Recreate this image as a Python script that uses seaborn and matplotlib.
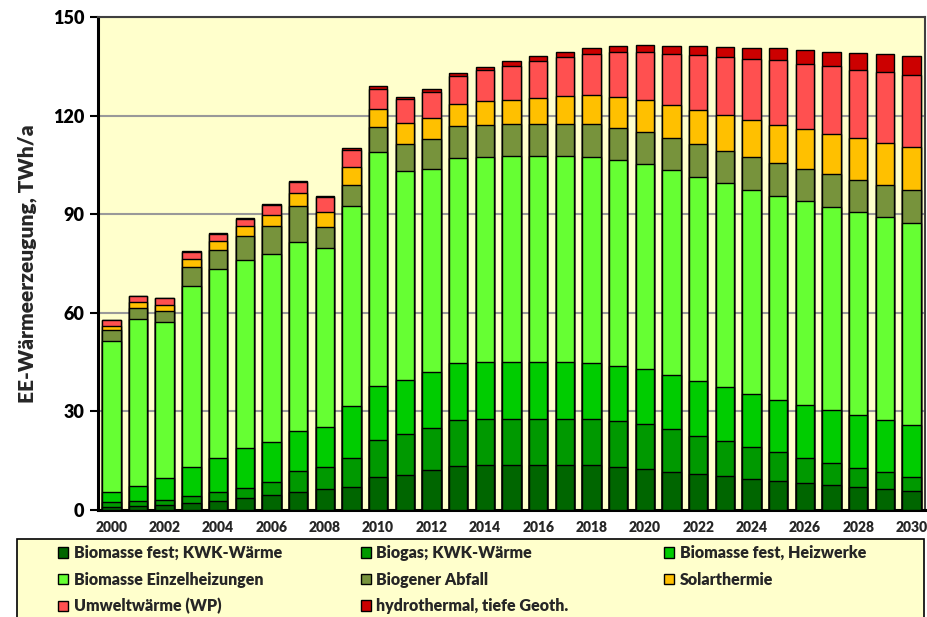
import numpy as np
import matplotlib
matplotlib.use("Agg")
import matplotlib.pyplot as plt
import seaborn as sns
from matplotlib.patches import Patch, Rectangle

# values, TWh/a
years = [str(y) for y in range(2000, 2031)]
fest_kwk = [1.0, 1.2, 1.5, 2.1, 2.8, 3.7, 4.6, 5.5, 6.3, 7.1, 9.9, 10.7, 12.1, 13.4, 13.6, 13.7,
            13.8, 13.7, 13.6, 13.0, 12.4, 11.7, 11.0, 10.3, 9.5, 8.7, 8.1, 7.5, 7.0, 6.4, 5.9]
biogas_kwk = [1.3, 1.4, 1.5, 2.3, 2.6, 3.1, 3.8, 6.3, 6.9, 8.8, 11.5, 12.4, 13.0, 14.1, 14.1, 14.1,
              14.0, 14.1, 14.1, 14.1, 13.9, 12.8, 11.6, 10.6, 9.8, 8.8, 7.7, 6.8, 5.9, 5.1, 4.0]
heizwerke = [3.1, 4.8, 6.6, 8.8, 10.3, 12.1, 12.2, 12.3, 12.0, 15.8, 16.2, 16.4, 16.9, 17.1, 17.2, 17.2,
             17.3, 17.2, 17.1, 16.8, 16.6, 16.5, 16.6, 16.4, 16.1, 16.1, 16.2, 16.2, 15.9, 15.8, 15.9]
einzel = [46.1, 50.8, 47.7, 55.1, 57.5, 57.2, 57.4, 57.5, 54.6, 60.7, 71.4, 63.7, 61.7, 62.6, 62.5, 62.6,
          62.6, 62.7, 62.7, 62.6, 62.4, 62.4, 62.1, 62.2, 62.1, 62.0, 62.0, 61.8, 61.8, 61.8, 61.6]
abfall = [3.4, 3.3, 3.3, 5.6, 6.0, 7.4, 8.4, 10.8, 6.3, 6.6, 7.4, 8.3, 9.1, 9.6, 9.7, 9.7,
          9.7, 9.8, 9.8, 9.8, 9.7, 9.8, 10.0, 9.8, 10.0, 10.0, 9.9, 9.9, 9.8, 9.9, 10.0]
solar = [1.2, 1.7, 1.8, 2.5, 2.6, 2.9, 3.5, 4.0, 4.5, 5.4, 5.6, 6.4, 6.5, 6.7, 7.2, 7.6,
         8.1, 8.4, 8.9, 9.3, 9.8, 10.0, 10.4, 10.8, 11.3, 11.5, 11.9, 12.3, 12.7, 12.8, 13.2]
umwelt = [1.6, 1.8, 2.0, 2.1, 2.2, 2.2, 2.9, 3.5, 4.5, 5.2, 6.2, 7.1, 8.0, 8.6, 9.5, 10.3,
          11.0, 12.0, 12.7, 13.8, 14.5, 15.6, 16.6, 17.7, 18.5, 19.7, 20.0, 20.5, 20.8, 21.5, 21.7]
hydro = [0.2, 0.2, 0.2, 0.3, 0.3, 0.3, 0.3, 0.3, 0.3, 0.5, 0.7, 0.7, 0.8, 0.9, 1.0, 1.3,
         1.6, 1.6, 1.8, 1.9, 2.2, 2.4, 2.8, 3.0, 3.3, 3.7, 4.1, 4.4, 5.1, 5.4, 5.8]

labels = ['Biomasse fest; KWK-Wärme', 'Biogas; KWK-Wärme', 'Biomasse fest, Heizwerke',
          'Biomasse Einzelheizungen', 'Biogener Abfall', 'Solarthermie',
          'Umweltwärme (WP)', 'hydrothermal, tiefe Geoth.']
series = [fest_kwk, biogas_kwk, heizwerke, einzel, abfall, solar, umwelt, hydro]
colors = ['#006600', '#009900', '#00CC00', '#66FF33', '#77933C', '#FFC000', '#FF5050', '#CC0000']

sns.set_theme(style='white')
plt.rcParams['font.family'] = ['Lato', 'DejaVu Sans']
plt.rcParams['font.weight'] = 'heavy'

fig = plt.figure(figsize=(9.27, 6.17), dpi=100, facecolor='white')
ax = fig.add_axes([0.1057, 0.1734, 0.8921, 0.799])
ax.set_facecolor('#FFFFCC')

# stacked bars: draw cumulative totals from the top down
cum = np.cumsum(np.array(series), axis=0)
for i in range(len(series) - 1, -1, -1):
    sns.barplot(x=years, y=cum[i], color=colors[i], saturation=1, width=0.69,
                edgecolor='black', linewidth=1.0, errorbar=None, ax=ax, zorder=3)

ax.set_ylim(0, 150)
ax.set_xlim(-0.5, 30.5)
ax.set_yticks(range(0, 151, 30))
ax.yaxis.grid(True, color='#999999', linewidth=1.5)
ax.set_axisbelow(True)
ax.set_xticks(range(0, 31, 2))
ax.set_xticklabels(years[::2], fontsize=10, fontweight='heavy')
ax.set_xlabel('')
ax.set_ylabel('EE-Wärmeerzeugung, TWh/a', fontsize=15, fontweight='heavy', labelpad=11)
ax.tick_params(axis='y', length=6, width=1.5, direction='out', left=True,
               labelsize=13, colors='black', pad=4)
ax.tick_params(axis='x', length=0, pad=8)
for lbl in ax.get_yticklabels():
    lbl.set_fontweight('heavy')

for s in ['left', 'bottom']:
    ax.spines[s].set_color('black')
    ax.spines[s].set_linewidth(2.2)
for s in ['top', 'right']:
    ax.spines[s].set_color('#404040')
    ax.spines[s].set_linewidth(1.5)

# legend box and three legend columns
fig.patches.append(Rectangle((0.0183, -0.02), 0.979, 0.1464, transform=fig.transFigure,
                             facecolor='#FFFFCC', edgecolor='black', linewidth=1.2, zorder=0))
handles = [Patch(facecolor=c, edgecolor='black', linewidth=1) for c in colors]
col_x = [0.0626, 0.3894, 0.7163]
for k in range(3):
    idx = [k, k + 3, k + 6] if k < 2 else [k, k + 3]
    fig.legend([handles[i] for i in idx], [labels[i] for i in idx],
               loc='upper left', bbox_to_anchor=(col_x[k], 0.1166), frameon=False,
               fontsize=11.5, handlelength=0.62, handleheight=0.62, handletextpad=0.35,
               labelspacing=0.66, borderpad=0, borderaxespad=0)

fig.savefig('out.png', dpi=100)
